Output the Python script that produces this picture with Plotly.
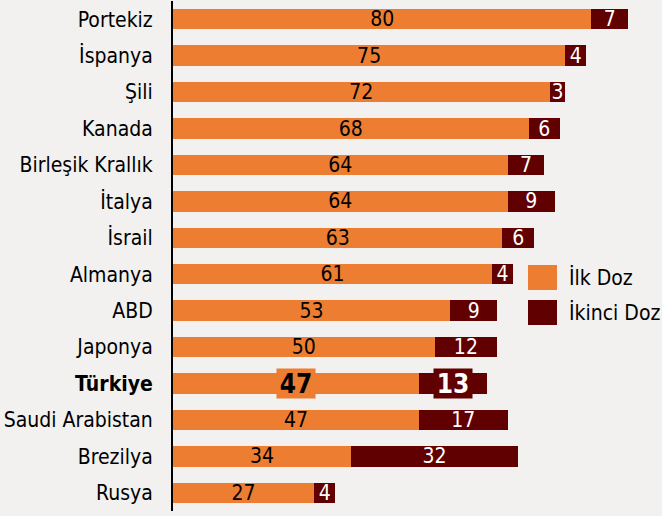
import plotly.graph_objects as go

countries = ["Portekiz", "İspanya", "Şili", "Kanada", "Birleşik Krallık", "İtalya", "İsrail",
             "Almanya", "ABD", "Japonya", "Türkiye", "Saudi Arabistan", "Brezilya", "Rusya"]
first_dose = [80, 75, 72, 68, 64, 64, 63, 61, 53, 50, 47, 47, 34, 27]
second_dose = [7, 4, 3, 6, 7, 9, 6, 4, 9, 12, 13, 17, 32, 4]
series_names = ["İlk Doz", "İkinci Doz"]
highlight = "Türkiye"

ORANGE = "#ED7D31"
DARK = "#600000"
BG = "#F2F1EF"
FONT = "DejaVu Sans Condensed, DejaVu Sans, sans-serif"
FS = 21

hi = countries.index(highlight)
t1 = ["" if c == highlight else str(v) for c, v in zip(countries, first_dose)]
t2 = ["" if c == highlight else str(v) for c, v in zip(countries, second_dose)]

fig = go.Figure()
fig.add_trace(go.Bar(y=countries, x=first_dose, orientation="h", name=series_names[0],
                     marker=dict(color=ORANGE, line=dict(width=0)), width=0.56,
                     text=t1, textposition="inside", insidetextanchor="middle", textangle=0,
                     constraintext="none", hoverinfo="skip",
                     textfont=dict(color="black", size=FS, family=FONT), cliponaxis=False,
                     showlegend=False))
fig.add_trace(go.Bar(y=countries, x=second_dose, orientation="h", name=series_names[1],
                     marker=dict(color=DARK, line=dict(width=0)), width=0.56,
                     text=t2, textposition="inside", insidetextanchor="middle", textangle=0,
                     constraintext="none", hoverinfo="skip",
                     textfont=dict(color="white", size=FS, family=FONT), cliponaxis=False,
                     showlegend=False))

fig.add_annotation(x=first_dose[hi] / 2, y=highlight, text="<b>%d</b>" % first_dose[hi],
                   showarrow=False, bgcolor=ORANGE, font=dict(size=26, color="black", family=FONT),
                   borderpad=0, xref="x", yref="y", height=29, width=38)
fig.add_annotation(x=first_dose[hi] + second_dose[hi] / 2, y=highlight, text="<b>%d</b>" % second_dose[hi],
                   showarrow=False, bgcolor=DARK, font=dict(size=26, color="white", family=FONT),
                   borderpad=0, xref="x", yref="y", height=29, width=38)

# legend keys (custom, larger squares)
legend_colors = [ORANGE, DARK]
legend_y = [277, 312]
for name, col, yc in zip(series_names, legend_colors, legend_y):
    yt = 1 - (yc - 12) / 516
    yb = 1 - (yc + 13) / 516
    fig.add_shape(type="rect", xref="paper", yref="paper",
                  x0=(528 - 173) / 489, x1=(557 - 173) / 489, y0=yb, y1=yt,
                  fillcolor=col, line=dict(width=0))
    fig.add_annotation(xref="paper", yref="paper", x=(567 - 173) / 489, y=1 - yc / 516,
                       xanchor="left", yanchor="middle", text=name, showarrow=False,
                       font=dict(size=FS, color="black", family=FONT))

ticktext = ["<b>%s</b>" % c if c == highlight else c for c in countries]

fig.update_layout(
    width=662, height=516, barmode="stack",
    paper_bgcolor=BG, plot_bgcolor=BG,
    margin=dict(l=173, r=0, t=0, b=0, autoexpand=False),
    font=dict(family=FONT, size=FS, color="black"),
    uniformtext=dict(mode="show", minsize=FS),
    xaxis=dict(range=[0, 93.5], visible=False, showgrid=False, zeroline=False),
    yaxis=dict(categoryorder="array", categoryarray=countries, range=[13.5, -0.5],
               domain=[5 / 516, 1 - 1 / 516],
               tickvals=countries, ticktext=ticktext, showline=True, linecolor="black",
               linewidth=2, ticks="", showgrid=False, tickfont=dict(size=FS),
               ticklabelstandoff=14, automargin=False),
    showlegend=False,
    hovermode=False,
)

fig.write_html("out.html", config={"displayModeBar": False},
               post_script="document.body.style.margin='0';document.body.style.background='%s';" % BG)
